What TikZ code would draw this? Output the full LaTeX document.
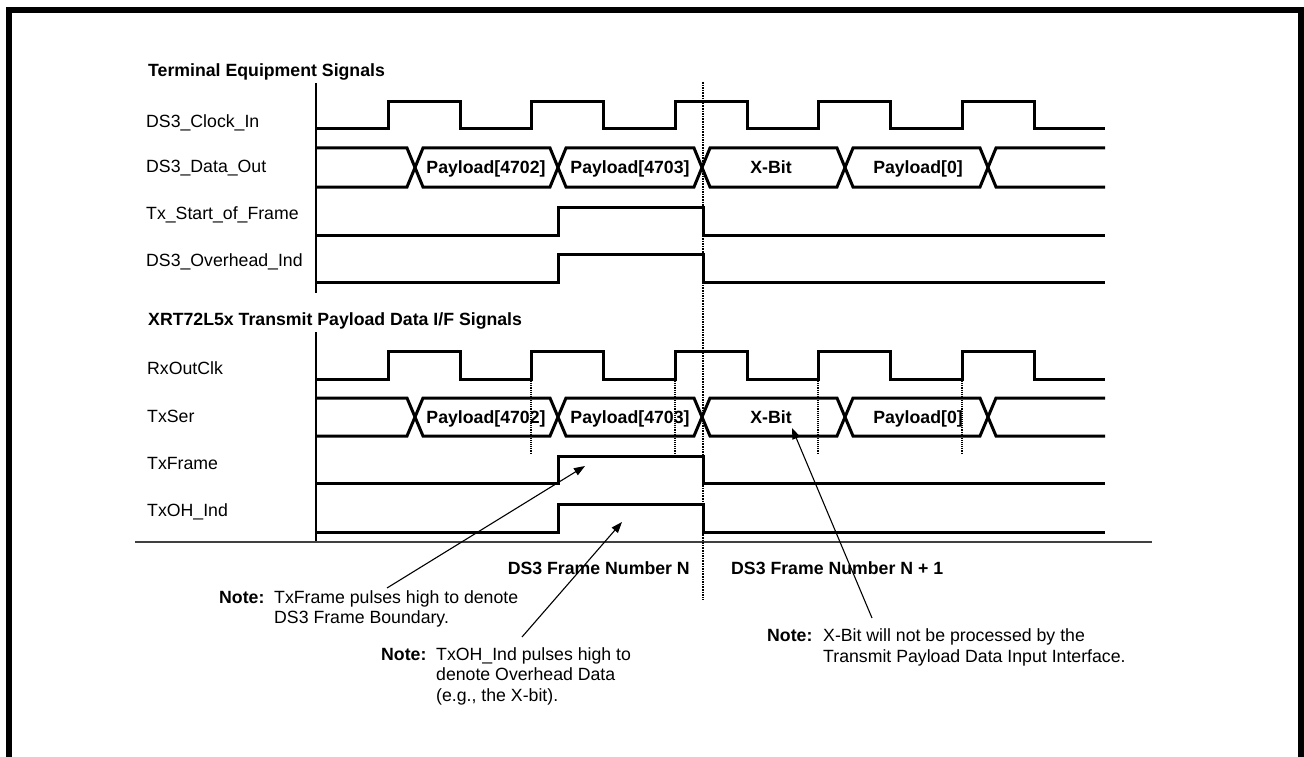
\documentclass[tikz,border=0pt]{standalone}
\usepackage{fontspec}
\setmainfont{Liberation Sans}
\usetikzlibrary{arrows.meta}
\newcommand{\diagfont}{\fontsize{17.7pt}{20.5pt}\selectfont}
\begin{document}
\begin{tikzpicture}[x=1pt,y=-1pt,
    wave/.style={line width=3pt},
    axis/.style={line width=1.6pt},
    marker/.style={line width=1.6pt,densely dotted},
    tick/.style={line width=1.1pt,densely dotted},
    sig/.style={anchor=base west,inner sep=0pt,font=\diagfont},
    head/.style={anchor=base west,inner sep=0pt,font=\diagfont\bfseries},
    buslbl/.style={anchor=base,inner sep=0pt,font=\diagfont\bfseries},
    pointer/.style={line width=1.1pt,-{Triangle[length=11pt,width=8pt]}}]
    \useasboundingbox (0,0) rectangle (1304,757);
    {\diagfont

    % Drawing outer frame (open at the bottom)
    \draw [line width=6pt] (9,757) -- (9,10) -- (1301,10) -- (1301,757);%

    % Terminal equipment signals
    \node [head] (termHead) at (148,77) {Terminal Equipment Signals};%
    \draw [axis] (316,83) -- (316,293);%

    \node [sig] (clkIn) at (146,128) {DS3\_Clock\_In};%
    \node [sig] (dataOut) at (146,172) {DS3\_Data\_Out};%
    \node [sig] (sofLbl) at (146,219) {Tx\_Start\_of\_Frame};%
    \node [sig] (ohLbl) at (146,266) {DS3\_Overhead\_Ind};%

    % Drawing DS3_Clock_In
    \draw [wave] (316,129) -- (388,129) -- (388,102) -- (460,102) -- (460,129) -- (531,129) -- (531,102) -- (603,102) -- (603,129) -- (675,129) -- (675,102) -- (747,102) -- (747,129) -- (818,129) -- (818,102) -- (890,102) -- (890,129) -- (962,129) -- (962,102) -- (1034,102) -- (1034,129) -- (1105,129);%

    % Drawing DS3_Data_Out
    \draw [wave] (316,148) -- (407,148) -- (423,187) -- (550,187) -- (566,148) -- (694,148) -- (710,187) -- (837,187) -- (853,148) -- (980,148) -- (996,187) -- (1105,187);%
    \draw [wave] (316,187) -- (407,187) -- (423,148) -- (550,148) -- (566,187) -- (694,187) -- (710,148) -- (837,148) -- (853,187) -- (980,187) -- (996,148) -- (1105,148);%
    \node [buslbl] (upPl4702) at (486,174) {Payload[4702]};%
    \node [buslbl] (upPl4703) at (630,174) {Payload[4703]};%
    \node [buslbl] (upXbit) at (771,174) {X-Bit};%
    \node [buslbl] (upPl0) at (918,174) {Payload[0]};%

    % Drawing Tx_Start_of_Frame and DS3_Overhead_Ind
    \draw [wave] (316,235) -- (558,235) -- (558,207) -- (703,207) -- (703,235) -- (1105,235);%
    \draw [wave] (316,282) -- (558,282) -- (558,254) -- (703,254) -- (703,282) -- (1105,282);%

    % XRT72L5x transmit payload data interface signals
    \node [head] (xrtHead) at (148,325) {XRT72L5x Transmit Payload Data I/F Signals};%
    \draw [axis] (316,332) -- (316,542);%

    \node [sig] (rxClk) at (147,374) {RxOutClk};%
    \node [sig] (txSer) at (147,422) {TxSer};%
    \node [sig] (txFrame) at (147,469) {TxFrame};%
    \node [sig] (txOH) at (147,516) {TxOH\_Ind};%

    % Drawing RxOutClk
    \draw [wave] (316,379) -- (388,379) -- (388,351) -- (460,351) -- (460,379) -- (531,379) -- (531,351) -- (603,351) -- (603,379) -- (675,379) -- (675,351) -- (747,351) -- (747,379) -- (818,379) -- (818,351) -- (890,351) -- (890,379) -- (962,379) -- (962,351) -- (1034,351) -- (1034,379) -- (1105,379);%

    % Sampling marks below rising edges
    \draw [tick] (531,379) -- (531,453);%
    \draw [tick] (675,379) -- (675,453);%
    \draw [tick] (818,379) -- (818,453);%
    \draw [tick] (962,379) -- (962,453);%

    % Drawing TxSer
    \draw [wave] (316,398) -- (407,398) -- (423,436) -- (550,436) -- (566,398) -- (694,398) -- (710,436) -- (837,436) -- (853,398) -- (980,398) -- (996,436) -- (1105,436);%
    \draw [wave] (316,436) -- (407,436) -- (423,398) -- (550,398) -- (566,436) -- (694,436) -- (710,398) -- (837,398) -- (853,436) -- (980,436) -- (996,398) -- (1105,398);%
    \node [buslbl] (loPl4702) at (486,423) {Payload[4702]};%
    \node [buslbl] (loPl4703) at (630,423) {Payload[4703]};%
    \node [buslbl] (loXbit) at (771,423) {X-Bit};%
    \node [buslbl] (loPl0) at (918,423) {Payload[0]};%

    % Drawing TxFrame and TxOH_Ind
    \draw [wave] (316,483) -- (558,483) -- (558,456) -- (703,456) -- (703,483) -- (1105,483);%
    \draw [wave] (316,532) -- (558,532) -- (558,504) -- (703,504) -- (703,532) -- (1105,532);%

    % Drawing base line and frame boundary
    \draw [line width=1.2pt,black!75] (135,542) -- (1152,542);%
    \draw [marker] (703,82) -- (703,600);%
    \node [buslbl,anchor=base east] (frameN) at (690,574) {DS3 Frame Number N};%
    \node [buslbl,anchor=base west] (frameNext) at (731,574) {DS3 Frame Number N + 1};%

    % Notes
    \node [head] (note1) at (219,603) {Note:};%
    \node [sig] (note1a) at (274,603) {TxFrame pulses high to denote};%
    \node [sig] (note1b) at (274,623) {DS3 Frame Boundary.};%

    \node [head] (note2) at (381,660) {Note:};%
    \node [sig] (note2a) at (436,660) {TxOH\_Ind pulses high to};%
    \node [sig] (note2b) at (436,680) {denote Overhead Data};%
    \node [sig] (note2c) at (436,701) {(e.g., the X-bit).};%

    \node [head] (note3) at (767,641) {Note:};%
    \node [sig] (note3a) at (823,641) {X-Bit will not be processed by the};%
    \node [sig] (note3b) at (823,662) {Transmit Payload Data Input Interface.};%

    % Drawing pointers from notes
    \coordinate (frameTail) at (387,588);%
    \coordinate (frameTip) at (585,466);%
    \coordinate (ohTail) at (522,637);%
    \coordinate (ohTip) at (622,522);%
    \coordinate (xbitTail) at (872,618);%
    \coordinate (xbitTip) at (792,428);%
    \draw [pointer] (frameTail) -- (frameTip);%
    \draw [pointer] (ohTail) -- (ohTip);%
    \draw [pointer] (xbitTail) -- (xbitTip);%
    }
\end{tikzpicture}
\end{document}
